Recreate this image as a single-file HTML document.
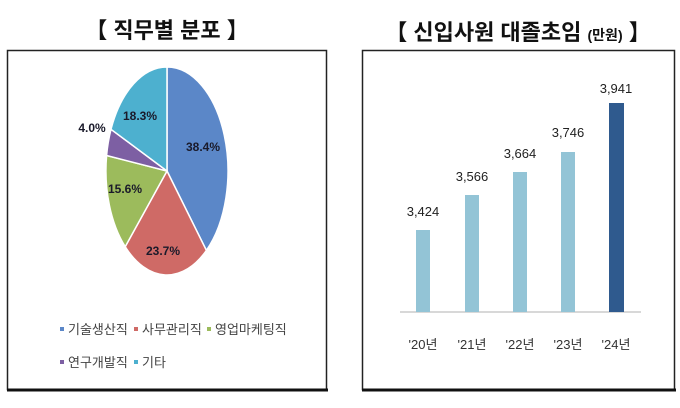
<!DOCTYPE html>
<html><head><meta charset="utf-8"><style>
body{margin:0;background:#fff;width:680px;height:403px;overflow:hidden;font-family:"Liberation Sans","Noto Sans CJK KR",sans-serif;}
</style></head><body>
<svg width="680" height="403" xmlns="http://www.w3.org/2000/svg" font-family="Liberation Sans, Noto Sans CJK KR, sans-serif">
<text x="167" y="38" text-anchor="middle" font-size="22" font-weight="bold" fill="#111">【 직무별 분포 】</text>
<text x="518" y="40" text-anchor="middle" font-size="22" font-weight="bold" fill="#111">【 신입사원 대졸초임 <tspan font-size="14">(만원)</tspan> 】</text>
<rect x="7.5" y="50.5" width="319" height="339" fill="#fff" stroke="#222" stroke-width="1.5"/>
<line x1="7" y1="390" x2="328" y2="390" stroke="#111" stroke-width="3"/>
<rect x="362.5" y="50.5" width="312" height="339" fill="#fff" stroke="#222" stroke-width="1.5"/>
<line x1="362" y1="390" x2="676" y2="390" stroke="#111" stroke-width="3"/>
<g stroke="#fff" stroke-width="1.5">
<path d="M167,171 L167,67 A61,104 0 0,1 206.4,250.4 Z" fill="#5b87c8"/>
<path d="M167,171 L206.4,250.4 A61,104 0 0,1 125.2,246.7 Z" fill="#cf6a66"/>
<path d="M167,171 L125.2,246.7 A61,104 0 0,1 106.6,155.5 Z" fill="#9cbb5c"/>
<path d="M167,171 L106.6,155.5 A61,104 0 0,1 111.0,129.3 Z" fill="#7d5fa3"/>
<path d="M167,171 L111.0,129.3 A61,104 0 0,1 167,67 Z" fill="#4db0cf"/>
</g>
<g font-size="12" font-weight="bold" fill="#1a1a2a" text-anchor="middle">
<text x="203" y="151">38.4%</text>
<text x="163" y="255">23.7%</text>
<text x="125" y="193">15.6%</text>
<text x="92" y="132">4.0%</text>
<text x="140" y="120">18.3%</text>
</g>
<g font-size="13" fill="#444">
<rect x="60" y="327" width="4" height="4" fill="#5b87c8"/><text x="68" y="334">기술생산직</text>
<rect x="134" y="327" width="4" height="4" fill="#cf6a66"/><text x="142" y="334">사무관리직</text>
<rect x="207" y="327" width="4" height="4" fill="#9cbb5c"/><text x="215" y="334">영업마케팅직</text>
<rect x="60" y="360" width="4" height="4" fill="#7d5fa3"/><text x="68" y="367">연구개발직</text>
<rect x="134" y="360" width="4" height="4" fill="#4db0cf"/><text x="142" y="367">기타</text>
</g>
<line x1="400" y1="312" x2="641" y2="312" stroke="#ccc" stroke-width="1.5"/>
<g fill="#93c4d6">
<rect x="416" y="230" width="14" height="82"/>
<rect x="465" y="195" width="14" height="117"/>
<rect x="513" y="172" width="14" height="140"/>
<rect x="561" y="152" width="14" height="160"/>
</g>
<rect x="609" y="103" width="15" height="209" fill="#2f5a8e"/>
<g font-size="13" fill="#222" text-anchor="middle">
<text x="423" y="216">3,424</text>
<text x="472" y="181">3,566</text>
<text x="520" y="158">3,664</text>
<text x="568" y="137">3,746</text>
<text x="616" y="93">3,941</text>
</g>
<g font-size="13" fill="#333" text-anchor="middle">
<text x="423" y="349">'20년</text>
<text x="472" y="349">'21년</text>
<text x="520" y="349">'22년</text>
<text x="568" y="349">'23년</text>
<text x="616" y="349">'24년</text>
</g>
</svg>
</body></html>
